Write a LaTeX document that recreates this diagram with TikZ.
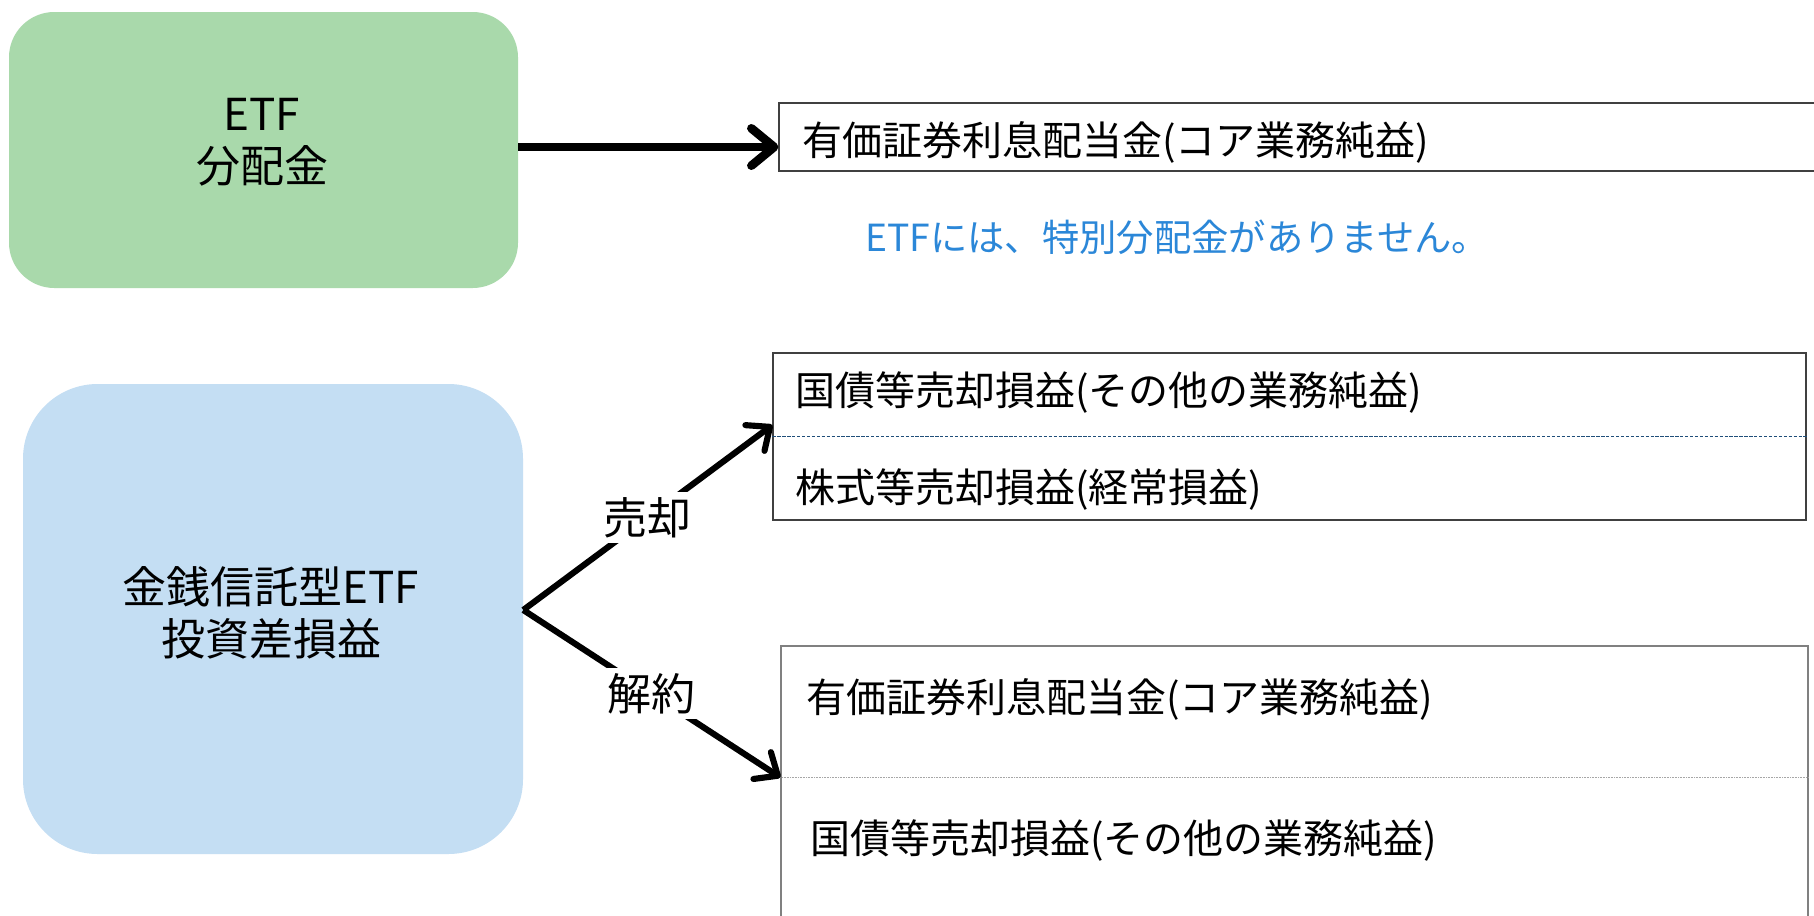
\documentclass[tikz,border=0pt]{standalone}
\usepackage{fontspec}
\setmainfont{Noto Sans CJK JP}
\usetikzlibrary{arrows.meta}
\definecolor{gfill}{HTML}{A9D9AB}
\definecolor{bfill}{HTML}{C4DEF3}
\definecolor{notec}{HTML}{2B87D8}
\definecolor{dblue}{HTML}{1F4E79}
\definecolor{bord}{HTML}{404040}
\definecolor{bord2}{HTML}{808080}
\tikzset{
  greenbox/.style={draw=none, fill=gfill, rounded corners=34pt, minimum width=381.75pt, minimum height=207pt, inner sep=0pt},
  bluebox/.style={draw=none, fill=bfill, rounded corners=56pt, minimum width=375pt, minimum height=352.5pt, inner sep=0pt},
  framebox/.style={draw=bord, line width=0.9pt, inner sep=0pt},
  bigtxt/.style={inner sep=0pt, align=center, font=\fontsize{33}{39}\selectfont},
  boxtxt/.style={anchor=west, inner sep=0pt, font=\fontsize{30}{36}\selectfont},
  notetxt/.style={anchor=west, inner sep=0pt, text=notec, font=\fontsize{28}{34}\selectfont},
  lbl/.style={fill=white, inner sep=4pt, font=\fontsize{33}{39}\selectfont},
  mainarrow/.style={line width=6.5pt, -{Straight Barb[length=17pt,width=28pt,line join=round,line cap=round]}},
  branch/.style={line width=4.6pt, -{Straight Barb[length=14pt,width=24pt,line join=round,line cap=round]}},
}
\begin{document}
\begin{tikzpicture}[x=0.75pt,y=-0.75pt]
\clip (0,0) rectangle (1814,915);
\fill[white] (0,0) rectangle (1814,915);
% left boxes
\node[greenbox] (green) at (263.5,150) {};
\node[bigtxt] (greentxt) at (262,142) {ETF\\分配金};
\node[bluebox] (blue) at (273,619) {};
\node[bigtxt] (bluetxt) at (271,613) {金銭信託型ETF\\投資差損益};
% right boxes
\node[framebox, minimum width=780.75pt, minimum height=51pt] (box1) at (1299.5,137) {};
\node[framebox, minimum width=774.75pt, minimum height=125.25pt] (box2) at (1289.5,436.5) {};
\node[framebox, draw=bord2, minimum width=770.25pt, minimum height=220.5pt] (box3) at (1294.5,793) {};
\draw[dblue, line width=1.1pt, dash pattern=on 2.5pt off 1.2pt] (box2.west) -- (box2.east);
\draw[bord2!70, line width=0.8pt, dash pattern=on 0.6pt off 0.6pt] ([yshift=-99pt]box3.north west) -- ([yshift=-99pt]box3.north east);
% texts
\node[boxtxt] (t1) at (802,142) {有価証券利息配当金(コア業務純益)};
\node[notetxt] (note) at (865,237) {ETFには、特別分配金がありません。};
\node[boxtxt] (t2) at (795,393) {国債等売却損益(その他の業務純益)};
\node[boxtxt] (t3) at (795,490) {株式等売却損益(経常損益)};
\node[boxtxt] (t4) at (806,699) {有価証券利息配当金(コア業務純益)};
\node[boxtxt] (t5) at (810,841) {国債等売却損益(その他の業務純益)};
% connectors
\draw[mainarrow] (green.east |- 0,147) -- (box1.west |- 0,147);
\coordinate (apex) at ([yshift=6.75pt]blue.east);
\draw[branch] (apex) -- ([yshift=8.6pt]box2.west) node[lbl, pos=0.5] (sell) {売却};
\draw[branch] (apex) -- ([yshift=-99pt]box3.north west) node[lbl, pos=0.5] (cancel) {解約};
\end{tikzpicture}
\end{document}
